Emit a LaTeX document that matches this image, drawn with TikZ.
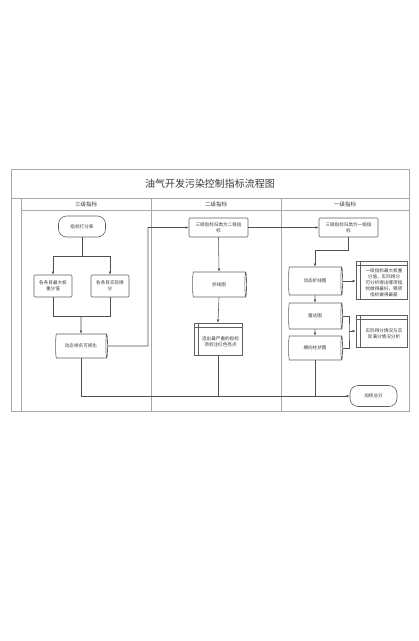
\documentclass[tikz,border=0pt]{standalone}
\usepackage{fontspec}
\setmainfont{Noto Sans CJK SC}
\usetikzlibrary{arrows.meta,shapes.geometric,calc}
\definecolor{framegray}{HTML}{A8A8A8}
\definecolor{nodegray}{HTML}{606060}
\definecolor{linegray}{HTML}{505050}
\definecolor{txtgray}{HTML}{3A3A3A}
\tikzset{
  lane/.style={draw=framegray, line width=0.6pt},
  conn/.style={draw=linegray, line width=0.55pt},
  arr/.style={conn, -{Latex[length=3.2pt,width=2.6pt]}},
  nodetxt/.style={font=\fontsize{4.6}{5.9}\selectfont, text=txtgray, align=center, inner sep=0pt},
  term/.style={nodetxt, draw=nodegray, line width=0.6pt, rounded corners=8pt, minimum width=47pt, minimum height=21pt},
  procbox/.style={nodetxt, draw=nodegray, line width=0.6pt, rounded corners=1pt},
  cyl/.style={nodetxt, cylinder, shape border rotate=0, aspect=0.4, draw=nodegray, line width=0.6pt},
  headbox/.style={nodetxt, draw=nodegray, line width=0.6pt},
  strip/.style={draw=nodegray, line width=0.5pt}
}
\begin{document}
\begin{tikzpicture}[x=1pt,y=-1pt]
\useasboundingbox (0,0) rectangle (419,641);
% frame
\draw[lane] (11,169) rectangle (409,411);
\draw[lane] (11,198) -- (409,198);
\draw[lane] (21,198) -- (21,411);
\draw[lane] (21,210) -- (409,210);
\draw[lane] (151,198) -- (151,411);
\draw[lane] (281,198) -- (281,411);
\node[font=\fontsize{10}{12}\selectfont, text=txtgray] (title) at (210,183.5) {油气开发污染控制指标流程图};
\node[font=\fontsize{5.5}{6.5}\selectfont, text=txtgray] (h3) at (86,204) {三级指标};
\node[font=\fontsize{5.5}{6.5}\selectfont, text=txtgray] (h2) at (216,204) {二级指标};
\node[font=\fontsize{5.5}{6.5}\selectfont, text=txtgray] (h1) at (345,204) {一级指标};
% column 1
\node[term] (score) at (82,226.5) {指标打分表};
\node[procbox, minimum width=38pt, minimum height=22pt] (boxA) at (53,286) {各条目最大权\\重分值};
\node[procbox, minimum width=38pt, minimum height=22pt] (boxB) at (110,286) {各条目实际得\\分};
\node[cyl, minimum height=52pt, minimum width=24pt] (dyn) at (81,346) {动态排名可视化};
\coordinate (br) at (82,256);
\coordinate (mg) at (81,316);
\draw[conn] (score.south) -- (br);
\draw[arr] (br) -| (boxA.north);
\draw[arr] (br) -| (boxB.north);
\draw[conn] (boxA.south) |- (mg);
\draw[conn] (boxB.south) |- (mg);
\draw[arr] (mg) -- (dyn.north);
% column 2
\node[procbox, minimum width=59pt, minimum height=19pt] (l2box) at (218.5,227.5) {三级指标归类为二级指\\标};
\node[cyl, minimum height=54pt, minimum width=25pt] (line2) at (219,284.5) {折线图};
\node[headbox, minimum width=48pt, minimum height=32pt] (hbA) at (218,339) {};
\node[nodetxt] (hbAt) at (220.5,341.5) {选出最严重的指标\\项标注红色亮点};
\draw[strip] ($(hbA.north west)+(0,5)$) -- ($(hbA.north east)+(0,5)$);
\draw[strip] ($(hbA.north west)+(5,0)$) -- ($(hbA.south west)+(5,0)$);
\coordinate (ja) at (148,346);
\draw[arr] (dyn.east) -- (ja) |- (l2box.west);
\draw[arr] (l2box.south) -- (line2.north);
\draw[arr] (line2.south) -- (hbA.north);
% column 3
\node[procbox, minimum width=59pt, minimum height=19pt] (l1box) at (348.5,227.5) {三级指标归类为一级指\\标};
\node[cyl, minimum height=54pt, minimum width=28pt] (dline) at (315,281) {动态折线图};
\node[headbox, minimum width=51pt, minimum height=38pt] (hbB) at (381.5,280) {};
\node[nodetxt] (hbBt) at (384,282.5) {一级指标最大权重\\分值，实际得分\\可分析得出哪项指\\标做得最好，哪项\\指标做得最差};
\draw[strip] ($(hbB.north west)+(0,5)$) -- ($(hbB.north east)+(0,5)$);
\draw[strip] ($(hbB.north west)+(5,0)$) -- ($(hbB.south west)+(5,0)$);
\node[cyl, minimum height=54pt, minimum width=26pt] (radar) at (315,316) {雷达图};
\node[cyl, minimum height=54pt, minimum width=24pt] (bar) at (315,348) {横向柱状图};
\node[headbox, minimum width=51pt, minimum height=32pt] (hbC) at (381.5,331) {};
\node[nodetxt] (hbCt) at (384,333.5) {实际得分情况与实\\际满分情况分析};
\draw[strip] ($(hbC.north west)+(0,5)$) -- ($(hbC.north east)+(0,5)$);
\draw[strip] ($(hbC.north west)+(5,0)$) -- ($(hbC.south west)+(5,0)$);
\node[term] (total) at (373.5,396) {加权总分};
\draw[arr] (l2box.east) -- (l1box.west);
\coordinate (br3) at (348.5,250);
\draw[conn] (l1box.south) -- (br3);
\draw[arr] (br3) -| (dline.north);
\draw[arr] (dline.east) -- (dline.east -| hbB.west);
\draw[arr] (dline.south) -- (radar.north);
\draw[arr] (radar.south) -- (bar.north);
\coordinate (jx) at (349,331);
\draw[conn] (radar.east) -| (jx) |- (bar.east);
\draw[arr] (jx) -- (hbC.west);
% bottom collector
\draw[arr] (dyn.south) |- (total.west);
\draw[conn] (hbA.south) -- (hbA.south |- total.west);
\draw[conn] (bar.south) -- (bar.south |- total.west);
\end{tikzpicture}
\end{document}
